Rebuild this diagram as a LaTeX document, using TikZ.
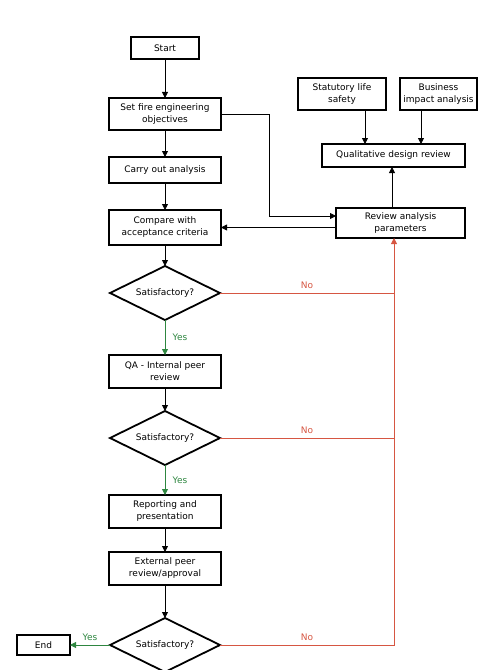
\documentclass[tikz,border=0pt]{standalone}
\usepackage{fontspec}
\setmainfont{DejaVu Sans}
\usepackage{xcolor}
\usetikzlibrary{arrows.meta, shapes.geometric, positioning}

\definecolor{nored}{RGB}{214,86,66}
\definecolor{yesgreen}{RGB}{46,134,64}

\begin{document}
\begin{tikzpicture}[
        x=1bp, y=-1bp,
        every node/.style={font=\fontsize{9bp}{12bp}\selectfont},
        box/.style={draw, line width=1.8bp, minimum width=112bp, minimum height=32bp, inner sep=2bp, outer sep=0pt, align=center},
        decision/.style={draw, diamond, aspect=2, line width=1.8bp, minimum width=110bp, minimum height=54bp, inner sep=0pt, outer sep=0pt},
        arr/.style={-{Triangle[length=6bp,width=6bp]}, line width=0.8bp},
        noline/.style={line width=0.8bp, nored},
        noarr/.style={noline, -{Triangle[length=6bp,width=6bp]}},
        yesarr/.style={-{Triangle[length=6bp,width=6bp]}, line width=0.8bp, yesgreen}
    ]
        \useasboundingbox (0,0) rectangle (492,670);

        % main column
        \node[box, minimum width=68bp, minimum height=22bp] (start) at (165,48) {Start};
        \node[box, below=39bp of start] (setobj) {Set fire engineering\\objectives};
        \node[box, minimum height=26bp, below=27bp of setobj] (carry) {Carry out analysis};
        \node[box, minimum height=35bp, below=27bp of carry] (compare) {Compare with\\acceptance criteria};
        \node[decision, below=21bp of compare] (sat1) {Satisfactory?};
        \node[box, minimum height=33bp, below=35bp of sat1] (qa) {QA - Internal peer\\review};
        \node[decision, below=23bp of qa] (sat2) {Satisfactory?};
        \node[box, minimum height=33bp, below=30bp of sat2] (report) {Reporting and\\presentation};
        \node[box, minimum height=33bp, below=24bp of report] (extern) {External peer\\review/approval};
        \node[decision, below=33bp of extern] (sat3) {Satisfactory?};
        \node[box, minimum width=53bp, minimum height=20bp, left=40bp of sat3] (end) {End};

        % review branch
        \node[box, minimum width=88bp] (statutory) at (342,94) {Statutory life\\safety};
        \node[box, minimum width=77bp] (business) at (438.5,94) {Business\\impact analysis};
        \node[box, minimum width=143bp, minimum height=23bp] (qual) at (393.5,155.5) {Qualitative design review};
        \node[box, minimum width=129bp, minimum height=30bp] (review) at (400.5,223) {Review analysis\\parameters};
        \coordinate (loop) at (394,0);

        \draw[arr] (start) -- (setobj);
        \draw[arr] (setobj) -- (carry);
        \draw[arr] (carry) -- (compare);
        \draw[arr] (compare) -- (sat1);
        \draw[yesarr] (sat1) -- node[right=4bp, text=yesgreen] {Yes} (qa);
        \draw[arr] (qa) -- (sat2);
        \draw[yesarr] (sat2) -- node[right=4bp, text=yesgreen] {Yes} (report);
        \draw[arr] (report) -- (extern);
        \draw[arr] (extern) -- (sat3);
        \draw[yesarr] (sat3) -- node[above=1bp, text=yesgreen] {Yes} (end);

        \draw[arr] (setobj.east) -- ++(48,0) |- ([yshift=7bp]review.west);
        \draw[arr] (review.west |- compare.east) -- (compare.east);
        \draw[arr] ([xshift=23bp]statutory.south) -- ([xshift=23bp]statutory.south |- qual.north);
        \draw[arr] ([xshift=-17.5bp]business.south) -- ([xshift=-17.5bp]business.south |- qual.north);
        \draw[arr] ([xshift=-8.5bp]review.north) -- ([xshift=-8.5bp]review.north |- qual.south);

        % No loops
        \draw[noline] (sat1.east) -- node[above=1bp, text=nored] {No} (sat1.east -| loop);
        \draw[noline] (sat2.east) -- node[above=1bp, text=nored] {No} (sat2.east -| loop);
        \draw[noarr] (sat3.east) -- node[above=1bp, text=nored] {No} (sat3.east -| loop) -- (loop |- review.south);
    \end{tikzpicture}
\end{document}
